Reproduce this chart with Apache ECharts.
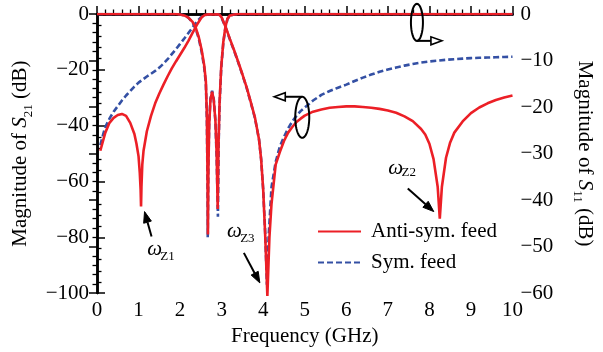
<!DOCTYPE html>
<html>
<head>
<meta charset="utf-8">
<script src="https://cdn.jsdelivr.net/npm/echarts@6/dist/echarts.min.js"></script>
<style>
  html, body { margin: 0; padding: 0; background: #fff; }
  #chart { width: 603px; height: 352px; }
</style>
</head>
<body>
<div id="chart"></div>
<script>
// Frequency axis ticks (GHz)
const freqTicks = [0, 1, 2, 3, 4, 5, 6, 7, 8, 9, 10];

// |S21| in dB (left axis), anti-symmetric feed: [GHz, dB]
const s21Anti = [
  [0.08,-49],[0.2,-42.5],[0.3,-39.0],[0.4,-37.2],[0.5,-36.2],[0.6,-35.8],[0.7,-36.5],
  [0.8,-39.0],[0.9,-43.0],[0.95,-46.5],[1.0,-51],[1.03,-57],[1.05,-63],[1.06,-69],
  [1.07,-62],[1.09,-54],[1.12,-49],[1.2,-42],[1.3,-36.5],[1.4,-32],[1.5,-28.5],
  [1.6,-25.3],[1.7,-22.3],[1.8,-19.5],[1.9,-17.0],[2.0,-14.6],[2.1,-12.2],[2.2,-9.6],
  [2.3,-6.8],[2.4,-4.0],[2.5,-1.6],[2.55,-0.8],[2.6,-0.3],[2.7,-0.1],[2.8,-0.2],
  [2.9,-0.1],[2.95,-0.3],[3.0,-1.2],[3.1,-4.8],[3.2,-9.0],[3.3,-13.0],[3.4,-17.2],
  [3.5,-21.6],[3.6,-26.2],[3.7,-31.5],[3.8,-37.0],[3.9,-45],[3.95,-52],[4.0,-63],
  [4.05,-80],[4.1,-101],[4.15,-80],[4.2,-68],[4.25,-61],[4.3,-54],[4.4,-49.5],
  [4.5,-45.5],[4.6,-42.5],[4.7,-40.5],[4.8,-38.7],[4.9,-37.5],[5.0,-36.4],[5.2,-35.0],
  [5.4,-34.2],[5.6,-33.6],[5.8,-33.3],[6.0,-33.1],[6.2,-33.1],[6.4,-33.3],[6.6,-33.6],
  [6.8,-34.0],[7.0,-34.6],[7.2,-35.4],[7.4,-36.7],[7.6,-38.4],[7.8,-41.2],[7.9,-43.2],
  [8.0,-46.5],[8.1,-52],[8.2,-62],[8.25,-73.3],[8.3,-62],[8.4,-51.5],[8.5,-46],
  [8.6,-42.5],[8.8,-38.5],[9.0,-35.5],[9.2,-33.5],[9.4,-32],[9.6,-30.8],[9.8,-29.9],
  [10.0,-29.2]
];

// |S21| in dB (left axis), symmetric feed
const s21Sym = [
  [0.08,-47],[0.15,-43],[0.2,-40.5],[0.3,-37.5],[0.4,-35.0],[0.5,-33.0],[0.6,-31.0],
  [0.7,-29.2],[0.8,-27.6],[0.9,-26.0],[1.0,-24.6],[1.1,-23.5],[1.2,-22.4],[1.3,-21.4],
  [1.4,-20.4],[1.5,-19.2],[1.6,-17.8],[1.7,-16.2],[1.8,-14.4],[1.9,-12.6],[2.0,-10.7],
  [2.1,-8.8],[2.2,-6.8],[2.3,-4.8],[2.4,-2.8],[2.5,-1.2],[2.6,-0.4],[2.7,-0.1],
  [2.8,-0.3],[2.9,-0.1],[2.95,-0.4],[3.0,-1.4],[3.1,-5.0],[3.2,-9.2],[3.3,-13.2],
  [3.4,-17.4],[3.5,-21.8],[3.6,-26.4],[3.7,-31.7],[3.8,-37.2],[3.9,-45],[3.95,-52],
  [4.0,-63],[4.05,-79],[4.09,-97],[4.13,-80],[4.2,-62],[4.3,-53],[4.4,-47.5],
  [4.5,-44],[4.6,-41],[4.7,-38.5],[4.8,-36.5],[4.9,-34.8],[5.0,-33.5],[5.2,-31.0],
  [5.4,-29.0],[5.6,-27.6],[5.8,-26.4],[6.0,-25.3],[6.2,-24.0],[6.4,-22.8],[6.6,-21.7],
  [6.8,-20.7],[7.0,-19.9],[7.2,-19.2],[7.4,-18.5],[7.6,-17.9],[7.8,-17.4],[8.0,-17.0],
  [8.2,-16.7],[8.4,-16.4],[8.6,-16.2],[8.8,-16.0],[9.0,-15.8],[9.2,-15.7],[9.4,-15.6],
  [9.6,-15.5],[9.8,-15.4],[10.0,-15.3]
];

// |S11| in dB (right axis), anti-symmetric feed
const s11Anti = [
  [0,0],[1.9,0],[2.0,-0.1],[2.1,-0.3],[2.2,-0.8],[2.3,-1.7],[2.37,-2.8],[2.45,-5.0],
  [2.52,-7.8],[2.58,-11],[2.62,-14.5],[2.645,-22],[2.66,-35],[2.67,-47.4],[2.68,-34],
  [2.7,-24],[2.73,-18.5],[2.77,-16.7],[2.81,-18.5],[2.85,-23],[2.88,-30],[2.905,-41.9],
  [2.925,-28],[2.95,-19],[2.99,-11.3],[3.04,-6],[3.09,-2.8],[3.14,-1.0],[3.2,-0.3],
  [3.3,-0.1],[3.4,0],[10,0]
];

// |S11| in dB (right axis), symmetric feed
const s11Sym = [
  [0,0],[1.9,0],[2.0,-0.1],[2.1,-0.3],[2.2,-0.8],[2.3,-1.8],[2.37,-3.0],[2.45,-5.3],
  [2.52,-8.2],[2.58,-11.5],[2.62,-15],[2.645,-23],[2.66,-37],[2.665,-48],[2.68,-33],
  [2.7,-23.5],[2.73,-18.2],[2.77,-16.5],[2.81,-18.3],[2.85,-23],[2.88,-31],[2.91,-43.6],
  [2.93,-27],[2.95,-19.5],[2.99,-11.6],[3.04,-6.2],[3.09,-3.0],[3.14,-1.1],[3.2,-0.3],
  [3.3,-0.1],[3.4,0],[10,0]
];

const seriesNames = ['Anti-sym. feed', 'Sym. feed'];
const zeroLabels = ['\u03c9', 'Z1', 'Z2', 'Z3'];

const FONT = 'Liberation Serif';
const RED = '#ec1f26';
const BLUE = '#3450a4';
const minus = v => String(v).replace('-', '\u2212');

const chart = echarts.init(document.getElementById('chart'), null, { renderer: 'canvas' });

const tickCommon = {
  axisLine: { show: true, lineStyle: { color: '#000', width: 2.5 } },
  axisTick: { show: true, inside: true, length: 8, lineStyle: { color: '#000', width: 1.5 } },
  minorTick: { show: true, splitNumber: 5, length: 4.5, lineStyle: { color: '#000', width: 1.3 } },
  splitLine: { show: false },
  minorSplitLine: { show: false }
};
const labelStyle = { color: '#000', fontFamily: FONT, fontSize: 21 };
const nameRich = {
  i: { fontFamily: FONT, fontSize: 21, fontStyle: 'italic', color: '#000', lineHeight: 28 },
  s: { fontFamily: FONT, fontSize: 13, color: '#000', lineHeight: 14, verticalAlign: 'bottom' },
  t: { fontFamily: FONT, fontSize: 21, color: '#000', lineHeight: 28 }
};

const lineSeries = (name, data, color, dashed, yIdx, clip) => ({
  name, type: 'line', data, xAxisIndex: 0, yAxisIndex: yIdx,
  showSymbol: false, symbol: 'none', clip,
  lineStyle: { color, width: 2.6, type: dashed ? [6, 3] : 'solid' },
  itemStyle: { color },
  emphasis: { disabled: true },
  animation: false
});

chart.setOption({
  animation: false,
  grid: { left: 97, right: 85, top: 14, bottom: 57 },
  legend: {
    data: seriesNames,
    orient: 'vertical', left: 317, top: 221, padding: 0,
    itemWidth: 43, itemHeight: 21, itemGap: 10,
    itemStyle: { opacity: 0 },
    textStyle: { color: '#000', fontFamily: FONT, fontSize: 21, padding: [0, 0, 0, 5] },
    selectedMode: false
  },
  xAxis: [
    Object.assign({
      type: 'value', min: freqTicks[0], max: freqTicks[freqTicks.length - 1], interval: 1,
      position: 'bottom',
      axisLabel: Object.assign({ margin: 7 }, labelStyle),
      name: 'Frequency (GHz)', nameLocation: 'middle', nameGap: 25,
      nameTextStyle: { color: '#000', fontFamily: FONT, fontSize: 21 }
    }, tickCommon),
    {
      type: 'value', min: 0, max: 10, position: 'top',
      axisLine: { show: true, lineStyle: { color: '#000', width: 2.5 } },
      axisTick: { show: false }, axisLabel: { show: false }, splitLine: { show: false }
    }
  ],
  yAxis: [
    Object.assign({
      type: 'value', min: -100, max: 0, interval: 20, position: 'left',
      axisLabel: Object.assign({ margin: 8, formatter: minus }, labelStyle),
      name: '{t|Magnitude of }{i|S}{s|21}{t| (dB)}', nameLocation: 'middle', nameGap: 58,
      nameRotate: 90,
      nameTextStyle: { rich: nameRich }
    }, tickCommon),
    Object.assign({
      type: 'value', min: -60, max: 0, interval: 10, position: 'right',
      axisLabel: Object.assign({ margin: 8, formatter: minus }, labelStyle),
      name: '{t|Magnitude of }{i|S}{s|11}{t| (dB)}', nameLocation: 'middle', nameGap: 58,
      nameRotate: -90,
      nameTextStyle: { rich: nameRich }
    }, tickCommon)
  ],
  series: [
    lineSeries(seriesNames[1], s11Sym, BLUE, true, 1, true),
    lineSeries(seriesNames[1], s21Sym, BLUE, true, 0, true),
    lineSeries(seriesNames[0], s21Anti, RED, false, 0, false),
    lineSeries(seriesNames[0], s11Anti, RED, false, 1, true)
  ]
});

// ---- annotations: zero labels with arrows, and ellipse markers pointing to each axis ----
const toPx = (pt, yIdx) => chart.convertToPixel({ xAxisIndex: 0, yAxisIndex: yIdx }, pt);

// lowest point of a curve inside a frequency window
function dipOf(data, f0, f1) {
  let best = null;
  data.forEach(p => { if (p[0] >= f0 && p[0] <= f1 && (!best || p[1] < best[1])) best = p; });
  return best;
}

function arrow(tail, tip, headLen, headW, fill) {
  const dx = tip[0] - tail[0], dy = tip[1] - tail[1];
  const L = Math.hypot(dx, dy), ux = dx / L, uy = dy / L;
  const bx = tip[0] - ux * headLen, by = tip[1] - uy * headLen;
  const nx = -uy * headW / 2, ny = ux * headW / 2;
  return [
    { type: 'line', shape: { x1: tail[0], y1: tail[1], x2: bx, y2: by },
      style: { stroke: '#000', lineWidth: 2 }, z: 100 },
    { type: 'polygon', shape: { points: [[tip[0], tip[1]], [bx + nx, by + ny], [bx - nx, by - ny]] },
      style: { fill, stroke: '#000', lineWidth: fill === '#000' ? 1 : 1.6, lineJoin: 'miter' }, z: 101 }
  ];
}

function ellipse(cx, cy, rx, ry) {
  const pts = [];
  for (let k = 0; k < 64; k++) {
    const a = k / 64 * Math.PI * 2;
    pts.push([cx + rx * Math.cos(a), cy + ry * Math.sin(a)]);
  }
  return { type: 'polygon', shape: { points: pts },
    style: { fill: 'transparent', stroke: '#000', lineWidth: 2 }, z: 100 };
}

function omega(cx, cy, sub, sx, sy) {
  return [
    { type: 'text', x: cx, y: cy, z: 100,
      style: { text: zeroLabels[0], fontFamily: FONT, fontSize: 21, fontStyle: 'italic',
               fill: '#000', align: 'center', verticalAlign: 'middle' } },
    { type: 'text', x: sx, y: sy, z: 100,
      style: { text: sub, fontFamily: FONT, fontSize: 13,
               fill: '#000', align: 'center', verticalAlign: 'middle' } }
  ];
}

const g = [];
// ωZ1
const d1 = toPx(dipOf(s21Anti, 0.8, 1.5), 0);
g.push(...arrow([d1[0] + 10.5, d1[1] + 30], [d1[0] + 3.5, d1[1] + 5], 11, 8, '#000'));
g.push(...omega(d1[0] + 13.5, d1[1] + 43, zeroLabels[1], d1[0] + 26.5, d1[1] + 50));
// ωZ3
const d3 = toPx(dipOf(s21Anti, 3.8, 4.5), 0);
g.push(...arrow([d3[0] - 23.5, d3[1] - 43], [d3[0] - 7.5, d3[1] - 13], 11, 8, '#000'));
g.push(...omega(d3[0] - 33, d3[1] - 64, zeroLabels[3], d3[0] - 20, d3[1] - 57));
// ωZ2
const d2 = toPx(dipOf(s21Anti, 7.5, 9.0), 0);
g.push(...arrow([d2[0] - 32, d2[1] - 30], [d2[0] - 6, d2[1] - 7], 11, 8, '#000'));
g.push(...omega(d2[0] - 44, d2[1] - 50, zeroLabels[2], d2[0] - 31, d2[1] - 46));

// ellipse around the S21 curves, arrow to the left axis
const eA = toPx([4.94, -37], 0);
g.push(ellipse(eA[0], eA[1], 7, 20.5));
g.push(...arrow([eA[0], eA[1] - 20.5], [eA[0] - 28, eA[1] - 20.5], 11, 8, '#fff'));
// ellipse around the S11 curves, arrow to the right axis
const eB = toPx([7.7, -1.8], 1);
g.push(ellipse(eB[0], eB[1], 6, 18.5));
g.push(...arrow([eB[0], eB[1] + 18.5], [eB[0] + 25, eB[1] + 18.5], 11, 8, '#fff'));

chart.setOption({ graphic: g });
</script>
</body>
</html>
